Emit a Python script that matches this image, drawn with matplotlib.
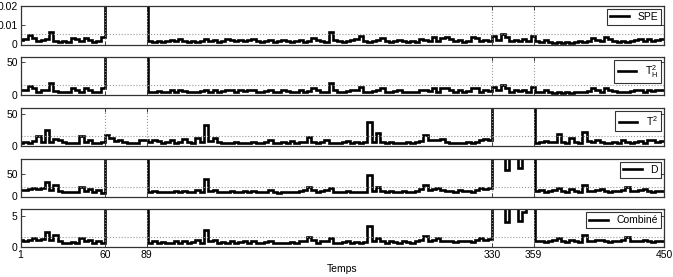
import numpy as np
import matplotlib
matplotlib.use('Agg')
import matplotlib.pyplot as plt

plt.rcParams['font.family'] = ['Liberation Sans', 'DejaVu Sans']

# one value per block of 3 samples, time 0..450
edges = np.arange(0, 451, 3)
xticks = [1, 60, 89, 330, 359, 450]

spe = [2.5, 3.0, 5.0, 3.5, 2.0, 2.5, 3.0, 6.5, 2.0, 1.5, 2.0, 1.5, 3.5, 3.0, 2.0, 3.5, 2.5, 1.5, 2.0, 4.0,
       100, 100, 100, 100, 100, 100, 100, 100, 100, 100,
       2.0, 1.5, 2.0, 1.5, 2.0, 2.5, 2.0, 3.0, 2.0, 1.5, 2.0, 1.5, 2.0, 3.0, 2.0, 2.5, 1.5, 2.0, 3.0, 2.5,
       2.0, 2.5, 2.0, 2.5, 3.0, 2.0, 1.5, 2.0, 2.5, 1.5, 2.0, 2.5, 2.0, 1.5, 2.0, 2.5, 1.5, 2.0, 3.5, 2.5,
       2.0, 1.5, 6.5, 2.5, 2.0, 1.5, 2.0, 2.5, 3.0, 4.5, 2.0, 1.5, 2.0, 2.5, 3.5, 2.0, 1.5, 2.0, 2.5, 2.0,
       1.5, 2.0, 1.5, 3.0, 2.5, 2.0, 4.0, 2.0, 3.5, 4.0, 3.0, 2.0, 2.5, 1.5, 2.0, 4.0, 3.5, 2.0, 2.5, 2.0,
       4.5, 2.5, 5.5, 4.0, 2.0, 2.5, 2.0, 3.0, 2.0, 4.5, 2.0, 1.5, 2.5, 1.5, 1.0, 1.5, 1.0, 1.5, 1.0, 1.5,
       2.0, 1.5, 2.0, 3.5, 2.5, 2.0, 4.0, 3.0, 2.0, 1.5, 2.0, 1.5, 2.0, 2.5, 3.0, 2.0, 3.0, 2.0, 2.5, 3.0]
spe = np.array(spe) * 1e-3

t2h = [7, 8, 14, 10, 5, 7, 8, 18, 6, 4, 5, 4, 10, 8, 5, 10, 7, 4, 5, 11,
       300, 300, 300, 300, 300, 300, 300, 300, 300, 300,
       5, 4, 6, 4, 5, 7, 5, 8, 6, 4, 5, 4, 6, 8, 5, 7, 4, 6, 8, 7,
       5, 7, 6, 7, 8, 5, 4, 6, 7, 4, 5, 7, 6, 4, 5, 7, 4, 6, 10, 7,
       5, 4, 18, 7, 5, 4, 6, 7, 8, 12, 5, 4, 6, 7, 10, 5, 4, 6, 7, 5,
       4, 5, 4, 8, 7, 6, 11, 5, 10, 11, 8, 5, 7, 4, 6, 11, 10, 5, 7, 6,
       12, 7, 15, 11, 5, 7, 6, 8, 5, 12, 5, 4, 7, 4, 3, 4, 3, 4, 3, 4,
       5, 4, 6, 10, 7, 5, 11, 8, 6, 4, 5, 4, 6, 7, 8, 5, 8, 6, 7, 8]

t2 = [5, 6, 5, 8, 16, 7, 25, 6, 11, 10, 6, 5, 4, 5, 16, 6, 10, 5, 4, 6,
      17, 12, 8, 10, 6, 5, 4, 5, 9, 10,
      6, 10, 8, 5, 6, 9, 5, 6, 11, 7, 5, 12, 6, 32, 8, 12, 6, 5, 4, 5,
      6, 5, 4, 5, 7, 5, 4, 6, 10, 5, 4, 6, 5, 8, 5, 6, 7, 14, 6, 5,
      7, 10, 5, 4, 5, 6, 8, 5, 6, 4, 6, 38, 6, 20, 7, 5, 6, 5, 4, 5,
      6, 5, 7, 8, 17, 9, 10, 9, 11, 7, 5, 4, 5, 4, 6, 5, 7, 10, 11, 9,
      200, 200, 200, 200, 200, 200, 200, 200, 200, 200,
      5, 6, 8, 6, 7, 19, 6, 5, 12, 6, 5, 22, 8, 7, 10, 6, 5, 4, 6, 5,
      9, 7, 5, 6, 8, 5, 10, 9, 7, 8]

d = [15, 14, 17, 19, 16, 18, 33, 15, 26, 12, 10, 9, 11, 10, 21, 12, 16, 10, 14, 8,
     300, 300, 300, 300, 300, 300, 300, 300, 300, 300,
     10, 12, 10, 11, 9, 10, 12, 10, 13, 9, 11, 15, 10, 39, 12, 15, 10, 11, 10, 12,
     9, 11, 12, 10, 12, 10, 9, 11, 14, 10, 8, 10, 9, 11, 10, 12, 14, 22, 15, 10,
     12, 14, 20, 10, 9, 11, 12, 10, 11, 9, 11, 47, 12, 21, 13, 10, 12, 11, 10, 12,
     11, 10, 13, 16, 25, 14, 17, 20, 14, 12, 13, 11, 14, 12, 13, 11, 15, 20, 16, 18,
     300, 300, 300, 60, 300, 300, 64, 300, 300, 300,
     12, 14, 11, 13, 15, 20, 12, 11, 16, 12, 11, 26, 13, 12, 15, 17, 12, 11, 13, 12,
     15, 22, 13, 12, 14, 17, 13, 11, 13, 12]

comb = [1.1, 1.0, 1.2, 1.4, 1.2, 1.3, 2.4, 1.1, 1.9, 0.9, 0.7, 0.7, 0.8, 0.7, 1.5, 0.9, 1.2, 0.7, 1.0, 0.6,
        20, 20, 20, 20, 20, 20, 20, 20, 20, 20,
        0.7, 0.9, 0.7, 0.8, 0.7, 0.7, 0.9, 0.7, 0.9, 0.7, 0.8, 1.1, 0.7, 2.8, 0.9, 1.1, 0.7, 0.8, 0.7, 0.9,
        0.7, 0.8, 0.9, 0.7, 0.9, 0.7, 0.7, 0.8, 1.0, 0.7, 0.6, 0.7, 0.7, 0.8, 0.7, 0.9, 1.0, 1.6, 1.1, 0.7,
        0.9, 1.0, 1.5, 0.7, 0.7, 0.8, 0.9, 0.7, 0.8, 0.7, 0.8, 3.4, 0.9, 1.5, 0.9, 0.7, 0.9, 0.8, 0.7, 0.9,
        0.8, 0.7, 0.9, 1.2, 1.8, 1.0, 1.2, 1.5, 1.0, 0.9, 0.9, 0.8, 1.0, 0.9, 0.9, 0.8, 1.1, 1.5, 1.2, 1.3,
        20, 20, 20, 4.1, 20, 20, 4.3, 5.7, 20, 20,
        0.9, 1.0, 0.8, 0.9, 1.1, 1.5, 0.9, 0.8, 1.2, 0.9, 0.8, 1.9, 0.9, 0.9, 1.1, 1.2, 0.9, 0.8, 0.9, 0.9,
        1.1, 1.6, 0.9, 0.9, 1.0, 1.2, 0.9, 0.8, 0.9, 0.9]

series = [spe, t2h, t2, d, comb]
labels = ['SPE', '$\\mathregular{T^2_H}$', '$\\mathregular{T^2}$', 'D', 'Combiné']
limits = [0.02, 58, 60, 85, 6.2]
thresholds = [0.0055, 15, 16, 22, 1.6]
yticks = [[0, 0.01, 0.02], [0, 50], [0, 50], [0, 50], [0, 5]]
ytick_labels = [['0', '0.01', '0.02'], ['0', '50'], ['0', '50'], ['0', '50'], ['0', '5']]

fig = plt.figure(figsize=(6.73, 2.77), dpi=100)
# panel boxes in pixels (top, bottom)
boxes = [(5.5, 44.5), (56.5, 95), (107.5, 146), (158.5, 196.5), (209, 247)]
W, H = 673.0, 277.0
for k in range(5):
    top, bot = boxes[k]
    ax = fig.add_axes([20.5 / W, (H - bot) / H, 643.5 / W, (bot - top) / H])
    ax.stairs(series[k], edges, color='k', lw=1.9, baseline=None, label=labels[k])
    ax.axhline(thresholds[k], color='0.6', ls=':', lw=0.8)
    ax.set_xlim(1, 450)
    ax.set_ylim(0, limits[k])
    ax.set_xticks(xticks)
    ax.set_yticks(yticks[k])
    ax.set_yticklabels(ytick_labels[k])
    ax.grid(axis='x', color='0.6', ls=':', lw=0.8)
    ax.tick_params(direction='in', length=3, width=0.6, labelsize=7.5, pad=2,
                   top=True, right=True, colors='0.15', labelcolor='k')
    for s in ax.spines.values():
        s.set_linewidth(0.9)
        s.set_color('0.2')
    if k < 4:
        ax.set_xticklabels([])
    else:
        ax.set_xlabel('Temps', fontsize=7.5, labelpad=3)
    leg = ax.legend(loc='upper right', fontsize=7.5, frameon=True, fancybox=False,
                    handlelength=1.8, borderpad=0.3, borderaxespad=0.3, handletextpad=0.8)
    leg.get_frame().set_edgecolor('k')
    leg.get_frame().set_linewidth(0.8)

fig.savefig('out.png', dpi=100)
